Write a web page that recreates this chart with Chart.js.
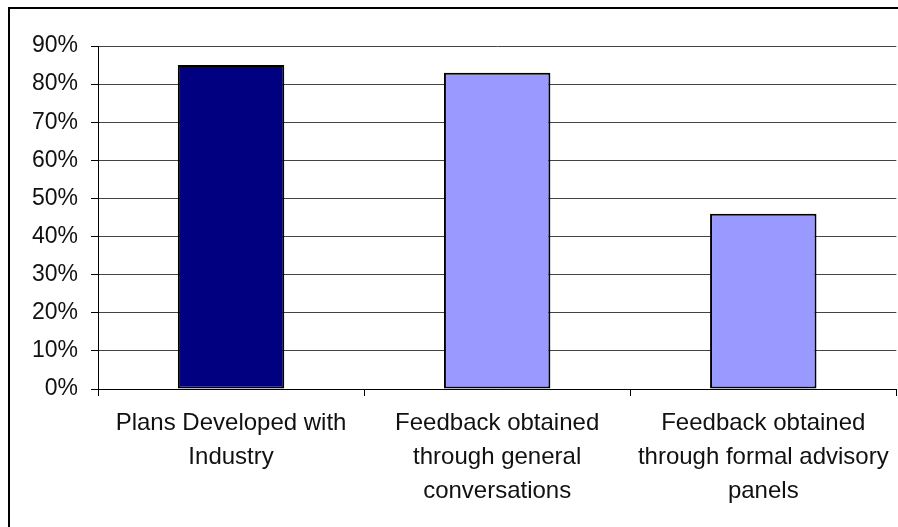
<!DOCTYPE html>
<html>
<head>
<meta charset="utf-8">
<script src="https://cdn.jsdelivr.net/npm/chart.js@4"></script>
<style>
  html, body { margin: 0; padding: 0; background: #fff; }
  #wrap { position: relative; width: 898px; height: 527px; overflow: hidden; }
  #inner { position: absolute; left: 0; top: 0; width: 900px; height: 527px; }
</style>
</head>
<body>
<div id="wrap"><div id="inner"><canvas id="chart"></canvas></div></div>
<script>
const categories = [
    ['Plans Developed with', 'Industry'],
    ['Feedback obtained', 'through general', 'conversations'],
    ['Feedback obtained', 'through formal advisory', 'panels'],
];
const values = [85, 83, 46];
const barColors = ['#000080', '#9999FF', '#9999FF'];
const yTicks = [0, 10, 20, 30, 40, 50, 60, 70, 80, 90];

const fontFamily = '"Liberation Sans", Arial, sans-serif';

// outer frame, cut off at right and bottom like the source picture
const framePlugin = {
    id: 'frame',
    beforeDraw(chart) {
        const ctx = chart.ctx;
        ctx.save();
        ctx.fillStyle = '#fff';
        ctx.fillRect(0, 0, chart.width, chart.height);
        ctx.strokeStyle = '#000';
        ctx.lineWidth = 2;
        ctx.strokeRect(9, 8, 1000, 1000);
        ctx.restore();
    }
};

const ctx = document.getElementById('chart').getContext('2d');

new Chart(ctx, {
    type: 'bar',
    data: {
        labels: categories,
        datasets: [{
            data: values,
            backgroundColor: barColors,
            borderColor: '#000',
            borderWidth: 2,
            borderSkipped: false,
            categoryPercentage: 1,
            barPercentage: 0.4,
        }]
    },
    options: {
        responsive: true,
        maintainAspectRatio: false,
        animation: false,
        layout: {
            padding: { top: 46, right: 2, left: 0, bottom: 0 }
        },
        plugins: {
            legend: { display: false },
            tooltip: { enabled: false },
        },
        scales: {
            x: {
                offset: true,
                grid: {
                    offset: true,
                    drawOnChartArea: false,
                    drawTicks: true,
                    tickLength: 7,
                    color: '#000',
                },
                border: { color: '#000', width: 1 },
                ticks: {
                    color: '#111',
                    maxRotation: 0,
                    autoSkip: false,
                    padding: 11,
                    font: { family: fontFamily, size: 24, lineHeight: 1.4 },
                },
                afterFit(scale) { scale.height = 138; },
            },
            y: {
                min: 0,
                max: 90,
                afterBuildTicks(scale) {
                    scale.ticks = yTicks.map(v => ({ value: v }));
                },
                grid: {
                    color: '#444',
                    drawTicks: true,
                    tickLength: 7,
                    tickColor: '#000',
                },
                border: { color: '#000', width: 1 },
                ticks: {
                    color: '#111',
                    padding: 13,
                    callback: v => v + '%',
                    font: { family: fontFamily, size: 23 },
                },
                afterFit(scale) { scale.width = 98; },
            }
        }
    },
    plugins: [framePlugin]
});
</script>
</body>
</html>
